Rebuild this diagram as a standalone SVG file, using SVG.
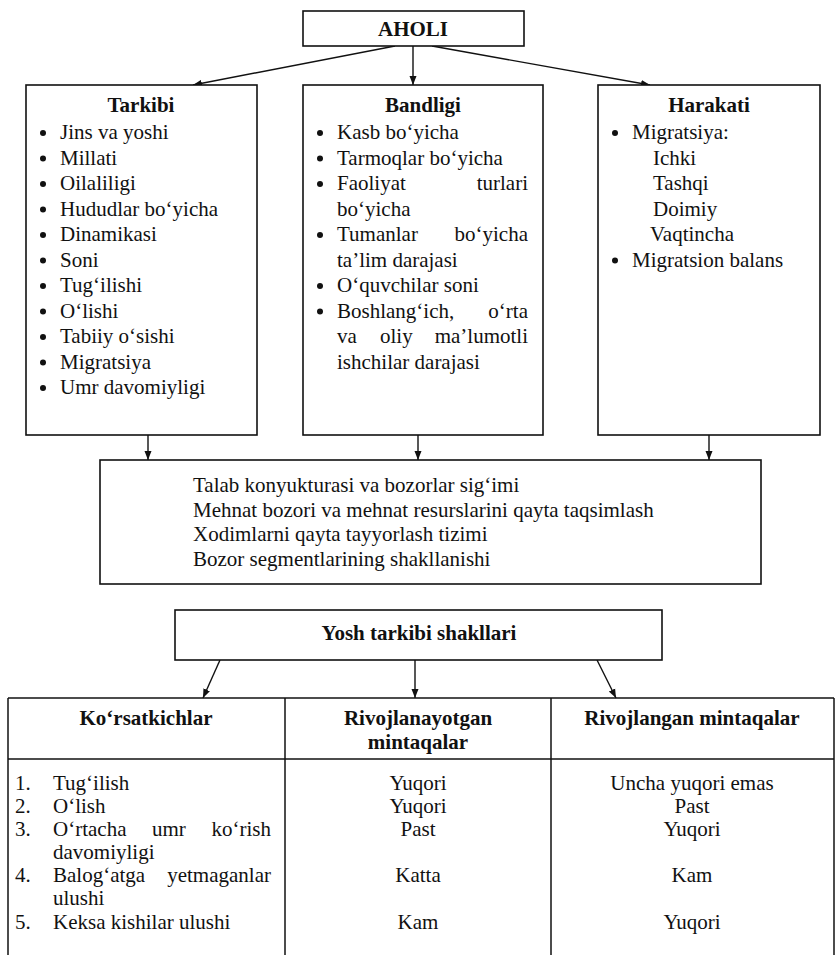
<svg xmlns="http://www.w3.org/2000/svg" width="836" height="955" viewBox="0 0 836 955" font-family="'Liberation Serif', Tinos, 'Times New Roman', Times, serif">
<defs>
<marker id="ah" markerWidth="10" markerHeight="10" refX="9" refY="5" orient="auto" markerUnits="userSpaceOnUse">
<path d="M0,1.5 L9,5 L0,8.5 Z" fill="#111"/>
</marker>
<style>
text{font-family:'Liberation Serif',Tinos,'Times New Roman',Times,serif;font-size:21px;fill:#111}
.b{font-weight:bold}
.c{text-anchor:middle}
.e{text-anchor:end}
.box{fill:#fff;stroke:#111;stroke-width:1.6}
.ln{stroke:#111;stroke-width:1.5;fill:none}
.con{stroke:#111;stroke-width:1.4;fill:none;marker-end:url(#ah)}
</style>
</defs>
<rect width="836" height="955" fill="#fff"/>

<g id="connectors">
<line class="con" x1="395" y1="46" x2="193" y2="85"/>
<line class="con" x1="413" y1="46" x2="413" y2="85"/>
<line class="con" x1="432" y1="46" x2="650" y2="85"/>
<line class="con" x1="148" y1="435" x2="148" y2="460"/>
<line class="con" x1="418" y1="435" x2="418" y2="460"/>
<line class="con" x1="709" y1="435" x2="709" y2="460"/>
<line class="con" x1="220" y1="660" x2="203" y2="698"/>
<line class="con" x1="415" y1="660" x2="415" y2="698"/>
<line class="con" x1="597" y1="660" x2="616" y2="698"/>
</g>

<g id="aholi">
<rect class="box" x="303" y="11" width="221" height="35"/>
<text class="b c" x="413" y="36">AHOLI</text>
</g>

<g id="tarkibi">
<rect class="box" x="26" y="85" width="231" height="350"/>
<text class="b c" x="141" y="112">Tarkibi</text>
<g fill="#111">
<circle cx="43" cy="133" r="3"/><circle cx="43" cy="158.5" r="3"/><circle cx="43" cy="184" r="3"/><circle cx="43" cy="209.5" r="3"/><circle cx="43" cy="235" r="3"/><circle cx="43" cy="260.5" r="3"/><circle cx="43" cy="286" r="3"/><circle cx="43" cy="311.5" r="3"/><circle cx="43" cy="337" r="3"/><circle cx="43" cy="362.5" r="3"/><circle cx="43" cy="388" r="3"/>
</g>
<text x="60" y="139">Jins va yoshi</text>
<text x="60" y="164.5">Millati</text>
<text x="60" y="190">Oilaliligi</text>
<text x="60" y="215.5">Hududlar bo‘yicha</text>
<text x="60" y="241">Dinamikasi</text>
<text x="60" y="266.5">Soni</text>
<text x="60" y="292">Tug‘ilishi</text>
<text x="60" y="317.5">O‘lishi</text>
<text x="60" y="343">Tabiiy o‘sishi</text>
<text x="60" y="368.5">Migratsiya</text>
<text x="60" y="394">Umr davomiyligi</text>
</g>

<g id="bandligi">
<rect class="box" x="303" y="85" width="240" height="350"/>
<text class="b c" x="423" y="112">Bandligi</text>
<g fill="#111">
<circle cx="320" cy="133" r="3"/><circle cx="320" cy="158.5" r="3"/><circle cx="320" cy="184" r="3"/><circle cx="320" cy="235" r="3"/><circle cx="320" cy="286" r="3"/><circle cx="320" cy="311.5" r="3"/>
</g>
<text x="337" y="139">Kasb bo‘yicha</text>
<text x="337" y="164.5">Tarmoqlar bo‘yicha</text>
<text x="337" y="190">Faoliyat</text><text class="e" x="528" y="190">turlari</text>
<text x="337" y="215.5">bo‘yicha</text>
<text x="337" y="241">Tumanlar</text><text class="e" x="528" y="241">bo‘yicha</text>
<text x="337" y="266.5">ta’lim darajasi</text>
<text x="337" y="292">O‘quvchilar soni</text>
<text x="337" y="317.5">Boshlang‘ich,</text><text class="e" x="528" y="317.5">o‘rta</text>
<text x="337" y="343">va</text><text x="380" y="343">oliy</text><text class="e" x="528" y="343">ma’lumotli</text>
<text x="337" y="368.5">ishchilar darajasi</text>
</g>

<g id="harakati">
<rect class="box" x="598" y="85" width="222" height="350"/>
<text class="b c" x="709" y="112">Harakati</text>
<g fill="#111"><circle cx="615" cy="133" r="3"/><circle cx="615" cy="260.5" r="3"/></g>
<text x="632" y="139">Migratsiya:</text>
<text x="653" y="164.5">Ichki</text>
<text x="653" y="190">Tashqi</text>
<text x="653" y="215.5">Doimiy</text>
<text x="650" y="241">Vaqtincha</text>
<text x="632" y="266.5">Migratsion balans</text>
</g>

<g id="bozor">
<rect class="box" x="100" y="460" width="661" height="124"/>
<text x="193" y="492">Talab konyukturasi va bozorlar sig‘imi</text>
<text x="193" y="517">Mehnat bozori va mehnat resurslarini qayta taqsimlash</text>
<text x="193" y="541">Xodimlarni qayta tayyorlash tizimi</text>
<text x="193" y="566">Bozor segmentlarining shakllanishi</text>
</g>

<g id="yosh">
<rect class="box" x="175" y="610" width="487" height="50"/>
<text class="b c" x="419" y="640">Yosh tarkibi shakllari</text>
</g>

<g id="jadval">
<line class="ln" x1="8" y1="698" x2="834" y2="698"/>
<line class="ln" x1="8" y1="759" x2="834" y2="759"/>
<line class="ln" x1="8" y1="698" x2="8" y2="955"/>
<line class="ln" x1="285" y1="698" x2="285" y2="955"/>
<line class="ln" x1="551" y1="698" x2="551" y2="955"/>
<line class="ln" x1="834" y1="698" x2="834" y2="955"/>
<text class="b c" x="146" y="725">Ko‘rsatkichlar</text>
<text class="b c" x="418" y="725">Rivojlanayotgan</text>
<text class="b c" x="418" y="749">mintaqalar</text>
<text class="b c" x="692" y="725">Rivojlangan mintaqalar</text>

<text x="15" y="790">1.</text><text x="53" y="790">Tug‘ilish</text>
<text x="15" y="813">2.</text><text x="53" y="813">O‘lish</text>
<text x="15" y="836">3.</text><text x="53" y="836">O‘rtacha</text><text x="152" y="836">umr</text><text class="e" x="271" y="836">ko‘rish</text>
<text x="53" y="859">davomiyligi</text>
<text x="15" y="882">4.</text><text x="53" y="882">Balog‘atga</text><text class="e" x="271" y="882">yetmaganlar</text>
<text x="53" y="905">ulushi</text>
<text x="15" y="929">5.</text><text x="53" y="929">Keksa kishilar ulushi</text>

<text class="c" x="418" y="790">Yuqori</text>
<text class="c" x="418" y="813">Yuqori</text>
<text class="c" x="418" y="836">Past</text>
<text class="c" x="418" y="882">Katta</text>
<text class="c" x="418" y="929">Kam</text>

<text class="c" x="692" y="790">Uncha yuqori emas</text>
<text class="c" x="692" y="813">Past</text>
<text class="c" x="692" y="836">Yuqori</text>
<text class="c" x="692" y="882">Kam</text>
<text class="c" x="692" y="929">Yuqori</text>
</g>
</svg>
